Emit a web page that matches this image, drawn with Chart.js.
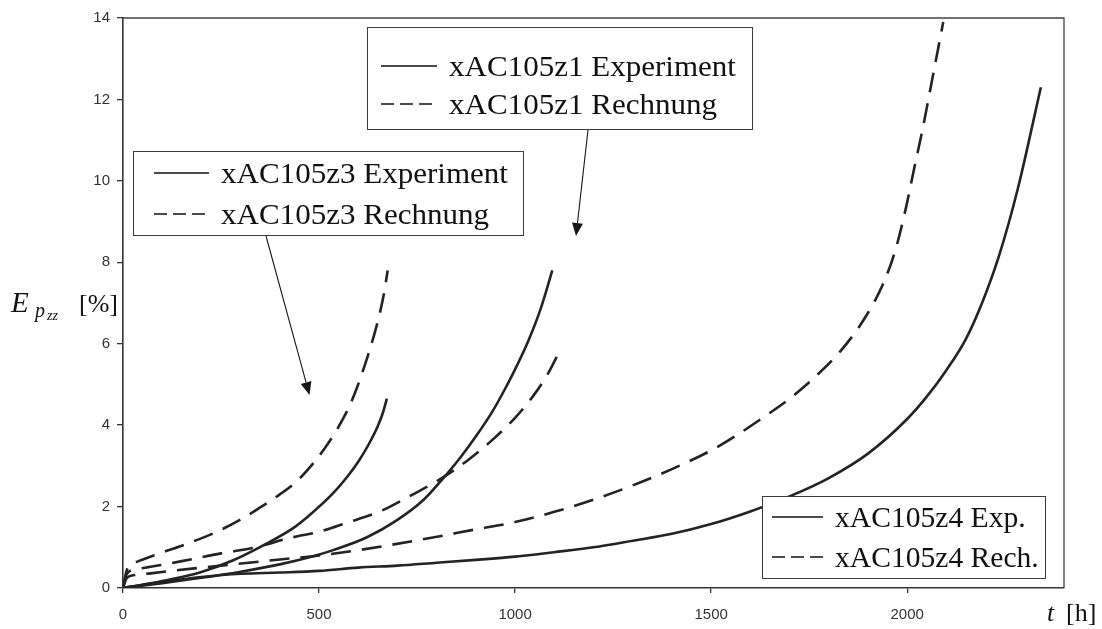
<!DOCTYPE html>
<html>
<head>
<meta charset="utf-8">
<script src="https://cdn.jsdelivr.net/npm/chart.js@4/dist/chart.umd.min.js"></script>
<style>
  html, body { margin: 0; padding: 0; background: #ffffff; }
  #wrap { width: 1102px; height: 629px; }
</style>
</head>
<body>
<div id="wrap"><canvas id="c" width="1102" height="629"></canvas></div>
<script>
// Creep strain E_p,zz [%] over time t [h] for three specimens (experiment vs. calculation)
const seriesNames = [
  'xAC105z1 Experiment', 'xAC105z1 Rechnung',
  'xAC105z3 Experiment', 'xAC105z3 Rechnung',
  'xAC105z4 Exp.', 'xAC105z4 Rech.'
];

const tZ1Exp = [0, 100, 200, 300, 400, 485, 536, 621, 698, 766, 817, 860, 902, 940, 975, 1004, 1035, 1065, 1095];
const eZ1Exp = [0, 0.12, 0.25, 0.4, 0.58, 0.78, 0.93, 1.24, 1.66, 2.16, 2.7, 3.2, 3.75, 4.3, 4.9, 5.45, 6.1, 6.85, 7.8];

const tZ1Rech = [0, 10, 30, 70, 150, 250, 330, 430, 500, 570, 655, 730, 805, 877, 940, 1000, 1045, 1080, 1110];
const eZ1Rech = [0, 0.35, 0.45, 0.52, 0.66, 0.85, 0.98, 1.24, 1.38, 1.6, 1.88, 2.25, 2.65, 3.12, 3.62, 4.18, 4.7, 5.2, 5.75];

const tZ3Exp = [0, 50, 111, 196, 281, 366, 434, 477, 536, 571, 600, 625, 650, 662, 673];
const eZ3Exp = [0, 0.08, 0.19, 0.38, 0.68, 1.09, 1.47, 1.8, 2.33, 2.72, 3.1, 3.5, 3.98, 4.28, 4.65];

const tZ3Rech = [0, 10, 40, 90, 150, 230, 300, 350, 400, 443, 485, 515, 540, 562, 580, 596, 610, 625, 640, 655, 665, 675];
const eZ3Rech = [0, 0.45, 0.66, 0.84, 1.04, 1.34, 1.68, 1.98, 2.3, 2.62, 3.06, 3.44, 3.8, 4.17, 4.52, 4.9, 5.28, 5.72, 6.2, 6.75, 7.2, 7.8];

const tZ4Exp = [0, 50, 100, 200, 300, 400, 500, 600, 700, 800, 900, 1000, 1100, 1200, 1300, 1400,
                1500, 1600, 1700, 1800, 1900, 2000, 2050, 2100, 2150, 2193, 2234, 2282, 2341];
const eZ4Exp = [0, 0.08, 0.15, 0.27, 0.35, 0.38, 0.42, 0.5, 0.55, 0.62, 0.69, 0.77, 0.88, 1.0, 1.16, 1.33,
                1.57, 1.88, 2.25, 2.7, 3.3, 4.15, 4.7, 5.35, 6.12, 7.05, 8.15, 9.8, 12.3];

const tZ4Rech = [0, 10, 30, 70, 170, 280, 400, 500, 600, 750, 900, 1000, 1100, 1200, 1300, 1400, 1500,
                 1560, 1630, 1700, 1760, 1830, 1890, 1940, 1970, 1996, 2020, 2040, 2060, 2080, 2092];
const eZ4Rech = [0, 0.25, 0.32, 0.36, 0.47, 0.58, 0.7, 0.8, 0.93, 1.17, 1.44, 1.62, 1.87, 2.17, 2.52, 2.92, 3.38,
                 3.72, 4.17, 4.65, 5.14, 5.82, 6.6, 7.5, 8.3, 9.3, 10.4, 11.3, 12.3, 13.3, 13.9];

const xTickValues = [0, 500, 1000, 1500, 2000];
const yTickValues = [0, 2, 4, 6, 8, 10, 12, 14];

const INK = '#232323';
const DASH = [20, 11];

function pairs(t, e) { return t.map((x, i) => ({ x: x, y: e[i] })); }

function line(label, t, e, dashed) {
  return {
    label: label,
    data: pairs(t, e),
    showLine: true,
    pointRadius: 0,
    pointHoverRadius: 0,
    borderColor: INK,
    backgroundColor: INK,
    borderWidth: 2.6,
    borderDash: dashed ? DASH : [],
    borderCapStyle: 'butt',
    borderJoinStyle: 'round',
    cubicInterpolationMode: 'monotone',
    fill: false
  };
}

// Legend boxes, arrows, frame and the math-style axis titles
const decorations = {
  id: 'decorations',
  afterDatasetsDraw(chart) {
    const ctx = chart.ctx;
    const a = chart.chartArea;

    ctx.save();
    ctx.strokeStyle = '#444';
    ctx.lineWidth = 1.3;
    ctx.beginPath();
    ctx.moveTo(a.left, a.top);
    ctx.lineTo(a.right, a.top);
    ctx.lineTo(a.right, a.bottom);
    ctx.stroke();
    ctx.restore();

    function key(box, rows) {
      ctx.save();
      ctx.fillStyle = '#ffffff';
      ctx.fillRect(box.x, box.y, box.w, box.h);
      ctx.strokeStyle = '#3c3c3c';
      ctx.lineWidth = 1;
      ctx.strokeRect(box.x + 0.5, box.y + 0.5, box.w, box.h);
      rows.forEach(r => {
        ctx.strokeStyle = '#111';
        ctx.lineWidth = 1.6;
        ctx.setLineDash(r.dashed ? [13, 6] : []);
        ctx.beginPath();
        ctx.moveTo(box.sx0, r.y);
        ctx.lineTo(box.sx1, r.y);
        ctx.stroke();
        ctx.setLineDash([]);
        ctx.save();
        ctx.translate(box.tx, r.y + 10);
        ctx.scale(box.stretch, 1);
        ctx.fillStyle = '#111';
        ctx.font = '29px "Liberation Serif"';
        ctx.textBaseline = 'alphabetic';
        ctx.textAlign = 'left';
        ctx.fillText(r.text, 0, 0);
        ctx.restore();
      });
      ctx.restore();
    }

    function arrow(x0, y0, x1, y1) {
      const ang = Math.atan2(y1 - y0, x1 - x0);
      const len = 13, half = 5.5;
      const bx = x1 - len * Math.cos(ang), by = y1 - len * Math.sin(ang);
      ctx.save();
      ctx.strokeStyle = '#1c1515';
      ctx.fillStyle = '#1c1515';
      ctx.lineWidth = 1.1;
      ctx.beginPath();
      ctx.moveTo(x0, y0);
      ctx.lineTo(bx, by);
      ctx.stroke();
      ctx.beginPath();
      ctx.moveTo(x1, y1);
      ctx.lineTo(bx + half * Math.sin(ang), by - half * Math.cos(ang));
      ctx.lineTo(bx - half * Math.sin(ang), by + half * Math.cos(ang));
      ctx.closePath();
      ctx.fill();
      ctx.restore();
    }

    key({ x: 367, y: 27, w: 385, h: 102, sx0: 381, sx1: 437, tx: 449, stretch: 1.07 }, [
      { y: 66, dashed: false, text: seriesNames[0] },
      { y: 104, dashed: true, text: seriesNames[1] }
    ]);
    key({ x: 133, y: 151, w: 390, h: 84, sx0: 154, sx1: 209, tx: 221, stretch: 1.07 }, [
      { y: 173, dashed: false, text: seriesNames[2] },
      { y: 214, dashed: true, text: seriesNames[3] }
    ]);
    key({ x: 762, y: 496, w: 283, h: 82, sx0: 772, sx1: 823, tx: 835, stretch: 1.02 }, [
      { y: 517, dashed: false, text: seriesNames[4] },
      { y: 557, dashed: true, text: seriesNames[5] }
    ]);

    arrow(588, 130, 576, 236);
    arrow(266, 236, 309.5, 395);

    // y-axis title: E_{p_{zz}} [%]
    ctx.save();
    ctx.fillStyle = '#111';
    ctx.textBaseline = 'alphabetic';
    ctx.textAlign = 'left';
    ctx.font = 'italic 29px "Liberation Serif"';
    ctx.fillText('E', 11, 312);
    ctx.font = 'italic 20px "Liberation Serif"';
    ctx.fillText('p', 35, 317);
    ctx.font = 'italic 14px "Liberation Serif"';
    ctx.fillText('zz', 47, 320);
    ctx.font = '26px "Liberation Serif"';
    ctx.fillText('[%]', 79, 312);

    // x-axis title: t [h]
    ctx.font = 'italic 26px "Liberation Serif"';
    ctx.fillText('t', 1047, 621);
    ctx.font = '26px "Liberation Serif"';
    ctx.fillText('[h]', 1066, 621);
    ctx.restore();
  }
};

const tickFont = { family: '"Liberation Sans", Arial, sans-serif', size: 15 };

new Chart(document.getElementById('c'), {
  type: 'scatter',
  data: {
    datasets: [
      line(seriesNames[0], tZ1Exp, eZ1Exp, false),
      line(seriesNames[1], tZ1Rech, eZ1Rech, true),
      line(seriesNames[2], tZ3Exp, eZ3Exp, false),
      line(seriesNames[3], tZ3Rech, eZ3Rech, true),
      line(seriesNames[4], tZ4Exp, eZ4Exp, false),
      line(seriesNames[5], tZ4Rech, eZ4Rech, true)
    ]
  },
  options: {
    responsive: false,
    animation: false,
    devicePixelRatio: 1,
    layout: { padding: { top: 18, right: 38, left: 0, bottom: 0 } },
    plugins: { legend: { display: false }, tooltip: { enabled: false } },
    events: [],
    scales: {
      x: {
        type: 'linear',
        min: 0,
        max: 2400,
        afterBuildTicks: s => { s.ticks = xTickValues.map(v => ({ value: v })); },
        afterFit: s => { s.height = 41; },
        ticks: { color: '#333', font: tickFont, padding: 13, maxRotation: 0, callback: v => String(v) },
        grid: { drawOnChartArea: false, drawTicks: true, tickLength: 5, color: '#333', lineWidth: 1.3 },
        border: { display: true, color: '#333', width: 1.6 }
      },
      y: {
        type: 'linear',
        min: 0,
        max: 14,
        afterBuildTicks: s => { s.ticks = yTickValues.map(v => ({ value: v })); },
        afterFit: s => { s.width = 123; },
        ticks: { color: '#333', font: tickFont, padding: 7, callback: v => String(v) },
        grid: { drawOnChartArea: false, drawTicks: true, tickLength: 6, color: '#333', lineWidth: 1.3 },
        border: { display: true, color: '#333', width: 1.6 }
      }
    }
  },
  plugins: [decorations]
});
</script>
</body>
</html>
